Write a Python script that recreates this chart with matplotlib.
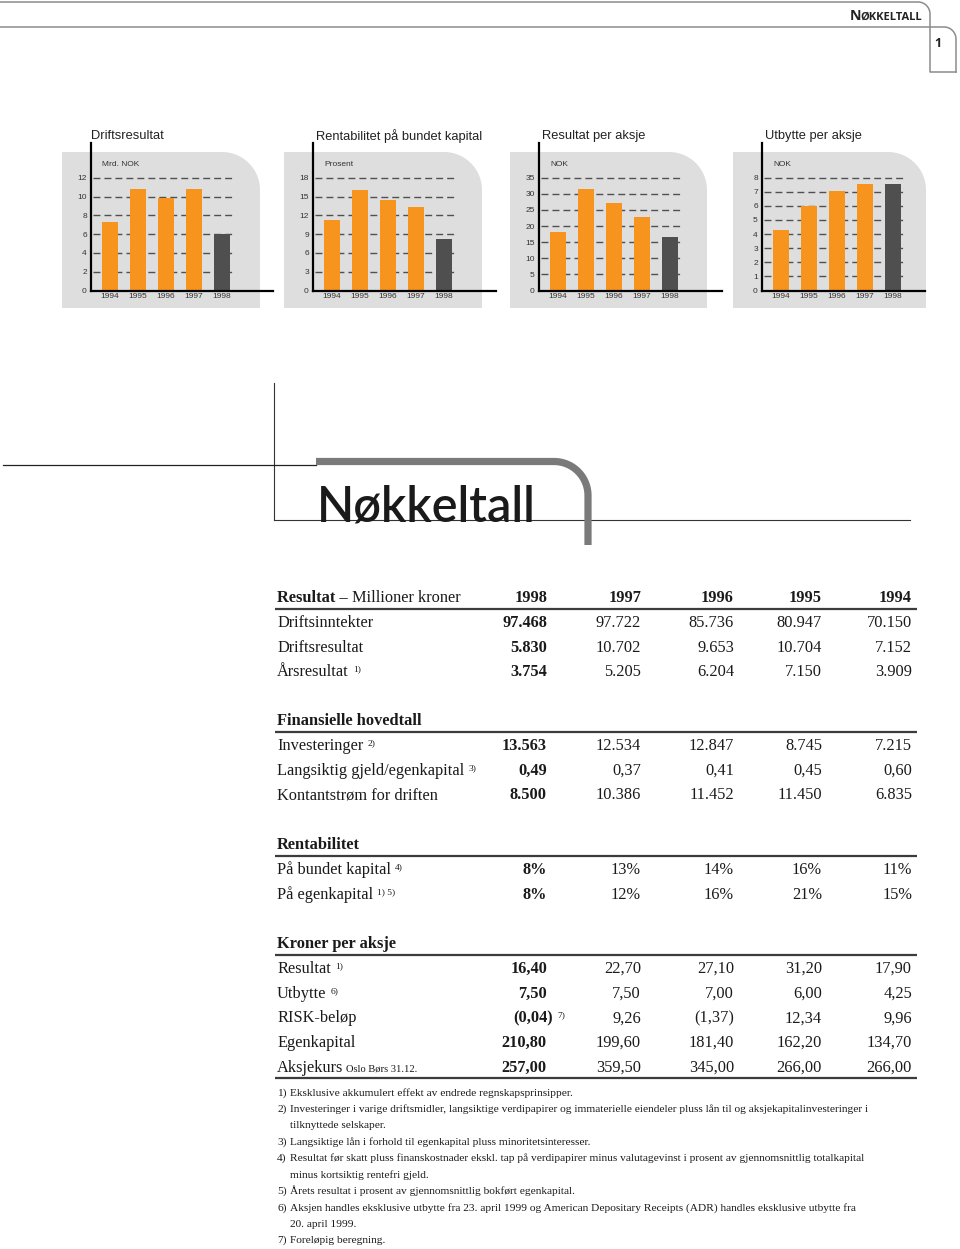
import matplotlib
matplotlib.use('Agg')
import matplotlib.pyplot as plt
from matplotlib.path import Path
from matplotlib.patches import PathPatch
import numpy as np

plt.rcParams['font.family'] = ['Liberation Sans', 'DejaVu Sans']

# ---------------- data ----------------
chart_titles = ['Driftsresultat', 'Rentabilitet på bundet kapital',
                'Resultat per aksje', 'Utbytte per aksje']
chart_units = ['Mrd. NOK', 'Prosent', 'NOK', 'NOK']
chart_years = ['1994', '1995', '1996', '1997', '1998']
driftsresultat = [7.3, 10.8, 9.8, 10.8, 6.0]
rentabilitet_bundet = [11.3, 16.1, 14.4, 13.4, 8.2]
resultat_per_aksje = [18.1, 31.5, 27.3, 22.8, 16.6]
utbytte_per_aksje = [4.3, 6.0, 7.05, 7.55, 7.55]
yticks_1 = [0, 2, 4, 6, 8, 10, 12]
yticks_2 = [0, 3, 6, 9, 12, 15, 18]
yticks_3 = [0, 5, 10, 15, 20, 25, 30, 35]
yticks_4 = [0, 1, 2, 3, 4, 5, 6, 7, 8]

table_years = ['1998', '1997', '1996', '1995', '1994']

res_labels = ['Driftsinntekter', 'Driftsresultat', 'Årsresultat']
res_notes = ['', '', '1)']
res_values = [['97.468', '97.722', '85.736', '80.947', '70.150'],
              ['5.830', '10.702', '9.653', '10.704', '7.152'],
              ['3.754', '5.205', '6.204', '7.150', '3.909']]

fin_labels = ['Investeringer', 'Langsiktig gjeld/egenkapital', 'Kontantstrøm for driften']
fin_notes = ['2)', '3)', '']
fin_values = [['13.563', '12.534', '12.847', '8.745', '7.215'],
              ['0,49', '0,37', '0,41', '0,45', '0,60'],
              ['8.500', '10.386', '11.452', '11.450', '6.835']]

ren_labels = ['På bundet kapital', 'På egenkapital']
ren_notes = ['4)', '1) 5)']
ren_values = [['8%', '13%', '14%', '16%', '11%'],
              ['8%', '12%', '16%', '21%', '15%']]

akj_labels = ['Resultat', 'Utbytte', 'RISK-beløp', 'Egenkapital', 'Aksjekurs']
akj_notes = ['1)', '6)', '', '', '']
akj_values = [['16,40', '22,70', '27,10', '31,20', '17,90'],
              ['7,50', '7,50', '7,00', '6,00', '4,25'],
              ['(0,04)', '9,26', '(1,37)', '12,34', '9,96'],
              ['210,80', '199,60', '181,40', '162,20', '134,70'],
              ['257,00', '359,50', '345,00', '266,00', '266,00']]

footnotes = [
    ('1)', ['Eksklusive akkumulert effekt av endrede regnskapsprinsipper.']),
    ('2)', ['Investeringer i varige driftsmidler, langsiktige verdipapirer og immaterielle eiendeler pluss lån til og aksjekapitalinvesteringer i',
            'tilknyttede selskaper.']),
    ('3)', ['Langsiktige lån i forhold til egenkapital pluss minoritetsinteresser.']),
    ('4)', ['Resultat før skatt pluss finanskostnader ekskl. tap på verdipapirer minus valutagevinst i prosent av gjennomsnittlig totalkapital',
            'minus kortsiktig rentefri gjeld.']),
    ('5)', ['Årets resultat i prosent av gjennomsnittlig bokført egenkapital.']),
    ('6)', ['Aksjen handles eksklusive utbytte fra 23. april 1999 og American Depositary Receipts (ADR) handles eksklusive utbytte fra',
            '20. april 1999.']),
    ('7)', ['Foreløpig beregning.']),
]

# ---------------- figure ----------------
W, H = 960, 1249
fig = plt.figure(figsize=(W / 100, H / 100), dpi=100)
fig.patch.set_facecolor('white')
bg = fig.add_axes([0, 0, 1, 1], zorder=0)
bg.set_xlim(0, W)
bg.set_ylim(H, 0)
bg.axis('off')
renderer = fig.canvas.get_renderer()

SERIF = ['Liberation Serif', 'DejaVu Serif']
SANS = ['Liberation Sans', 'DejaVu Sans']
HEAD = ['Open Sans', 'DejaVu Sans']
ORANGE = '#F7941D'
DARK = '#4f4f4f'
PANEL = '#dedede'
LINEGREY = '#8c8c8c'


def arc_pts(cx, cy, r, t0, t1, n=30):
    t = np.linspace(t0, t1, n)
    return np.column_stack([cx + r * np.cos(t), cy + r * np.sin(t)])


def polyline(pts, **kw):
    pts = np.asarray(pts, float)
    bg.plot(pts[:, 0], pts[:, 1], **kw)


def put(x, y, s, size, weight='normal', family=SERIF, ha='left', color='#1a1a1a', **kw):
    return bg.text(x, y, s, fontsize=size, fontweight=weight, family=family,
                   ha=ha, va='baseline', color=color, **kw)


def x1(t):
    return t.get_window_extent(renderer).x1


def x0(t):
    return t.get_window_extent(renderer).x0

# ---------------- page header ----------------
r = 12
top = np.vstack([[[0, 2], [930 - r, 2]],
                 arc_pts(930 - r, 2 + r, r, -np.pi / 2, 0),
                 [[930, 72], [956, 72]]])
polyline(top, color=LINEGREY, lw=1.1, solid_joinstyle='round')
second = np.vstack([[[0, 27], [956 - r, 27]],
                    arc_pts(956 - r, 27 + r, r, -np.pi / 2, 0),
                    [[956, 72]]])
polyline(second, color=LINEGREY, lw=1.1)
t_small = put(922, 19.5, 'ØKKELTALL', 8.0, weight='bold', family=HEAD,
              ha='right', color='#222222')
put(x0(t_small) + 0.5, 19.5, 'N', 10.2, weight='bold', family=HEAD,
    ha='right', color='#222222')
put(934, 47, '1', 9, weight='bold', family=HEAD, color='#222222')

# ---------------- charts ----------------
axis_x = [91, 313, 539, 762]
axis_len = [182, 183, 183, 163]
panel_right = [260, 482, 707, 926]
base_y, top_y, toptick_y = 290.5, 143, 177.7
panel_top, panel_bot, panel_r = 152, 308, 38
series = [driftsresultat, rentabilitet_bundet, resultat_per_aksje, utbytte_per_aksje]
ticks = [yticks_1, yticks_2, yticks_3, yticks_4]
step = 28.0
first_off = 19.0

for k in range(4):
    ax0 = axis_x[k]
    pl, pr = ax0 - 29, panel_right[k]
    verts = np.vstack([[[pl, panel_bot], [pl, panel_top], [pr - panel_r, panel_top]],
                       arc_pts(pr - panel_r, panel_top + panel_r, panel_r, -np.pi / 2, 0),
                       [[pr, panel_bot], [pl, panel_bot]]])
    bg.add_patch(PathPatch(Path(verts), facecolor=PANEL, edgecolor='none', zorder=0))

    L = axis_len[k]
    ax = fig.add_axes([ax0 / W, (H - base_y) / H, L / W, (base_y - top_y) / H], zorder=2)
    ax.patch.set_alpha(0)
    tk = ticks[k]
    ppu = (base_y - toptick_y) / tk[-1]
    ax.set_ylim(0, (base_y - top_y) / ppu)
    xl = -first_off / step
    ax.set_xlim(xl, xl + L / step)
    ax.hlines(tk[1:], (2 - first_off) / step, (141 - first_off) / step,
              colors='#505050', lw=1.0, linestyles=(0, (5.0, 2.9)), zorder=1)
    ax.bar(range(5), series[k], width=16 / step,
           color=[ORANGE] * 4 + [DARK], zorder=3)
    for s in ['top', 'right']:
        ax.spines[s].set_visible(False)
    for s in ['left', 'bottom']:
        ax.spines[s].set_linewidth(1.6)
        ax.spines[s].set_color('black')
        ax.spines[s].set_zorder(4)
    ax.set_yticks(tk)
    ax.set_yticklabels([str(v) for v in tk])
    ax.set_xticks(range(5))
    ax.set_xticklabels(chart_years)
    ax.tick_params(axis='y', length=0, labelsize=6.0, pad=3, labelcolor='#333333')
    ax.tick_params(axis='x', length=0, labelsize=6.0, pad=2.0, labelcolor='#333333')
    bg.text(ax0 + 11, 164, chart_units[k], fontsize=6.0, family=SANS, ha='left',
            va='center', color='#333333')
    bg.text(ax0 + (0 if k == 0 else 3), 136, chart_titles[k], fontsize=9.3, family=SANS,
            ha='left', va='center', color='#222222')

# ---------------- big title ----------------
bg.plot([274, 274], [383, 520], color='#333333', lw=0.8)
bg.plot([3, 316], [465, 465], color='#222222', lw=0.9)
bg.plot([274, 910], [520, 520], color='#333333', lw=0.8)
rb = 34
band = np.vstack([[[316, 461.5], [588 - rb, 461.5]],
                  arc_pts(588 - rb, 461.5 + rb, rb, -np.pi / 2, 0),
                  [[588, 545]]])
polyline(band, color='#7a7a7a', lw=5.2, solid_capstyle='butt', solid_joinstyle='round')
put(317, 521, 'Nøkkeltall', 35, weight='semibold', family=['Lato', 'DejaVu Sans'], color='#1a1a1a')

# ---------------- table ----------------
col_right = [547, 641, 734, 822, 912]
label_x = 277
FS = 11.8
NOTE_FS = 6.8
BASE = 5
line_x0, line_x1 = 275, 917


def label_with_note(y, label, note, small=None):
    t = put(label_x, y + BASE, label, FS)
    if small:
        t = put(x1(t) + 3, y + BASE, small, 7.6)
    if note:
        put(x1(t) + 4, y + BASE - 5, note, NOTE_FS)


def rule(y):
    bg.plot([line_x0, line_x1], [y, y], color='#3c3c3c', lw=1.6, solid_capstyle='butt')


def section(head_y, rows_y0, labels, notes, values):
    for i in range(len(labels)):
        yy = rows_y0 + 24.7 * i
        small = 'Oslo Børs 31.12.' if labels[i] == 'Aksjekurs' else None
        label_with_note(yy, labels[i], notes[i], small=small)
        for j, v in enumerate(values[i]):
            if j == 0 and v.startswith('('):
                tv = put(553, yy + BASE, v, FS, weight='bold', ha='right')
                put(x1(tv) + 4, yy + BASE - 5, '7)', NOTE_FS)
            else:
                put(col_right[j], yy + BASE, v, FS, weight='bold' if j == 0 else 'normal', ha='right')


# section 1
t = put(label_x, 597 + BASE, 'Resultat –', FS, weight='bold')
put(x1(t) + 4, 597 + BASE, 'Millioner kroner', FS)
for j, yr in enumerate(table_years):
    put(col_right[j], 597 + BASE, yr, FS, weight='bold', ha='right')
rule(609)
section(597, 622, res_labels, res_notes, res_values)

put(label_x, 720 + BASE, 'Finansielle hovedtall', FS, weight='bold')
rule(732)
section(720, 745, fin_labels, fin_notes, fin_values)

put(label_x, 844 + BASE, 'Rentabilitet', FS, weight='bold')
rule(856)
section(844, 869, ren_labels, ren_notes, ren_values)

put(label_x, 943 + BASE, 'Kroner per aksje', FS, weight='bold')
rule(955)
section(943, 968, akj_labels, akj_notes, akj_values)
rule(1078)

# ---------------- footnotes ----------------
fy = 1092
FN = 8.2
for num, lines in footnotes:
    for li, txt in enumerate(lines):
        if li == 0:
            put(label_x, fy + 3.5, num, FN)
        put(290.5, fy + 3.5, txt, FN)
        fy += 16.4

fig.savefig('out.png', dpi=100, facecolor='white')
